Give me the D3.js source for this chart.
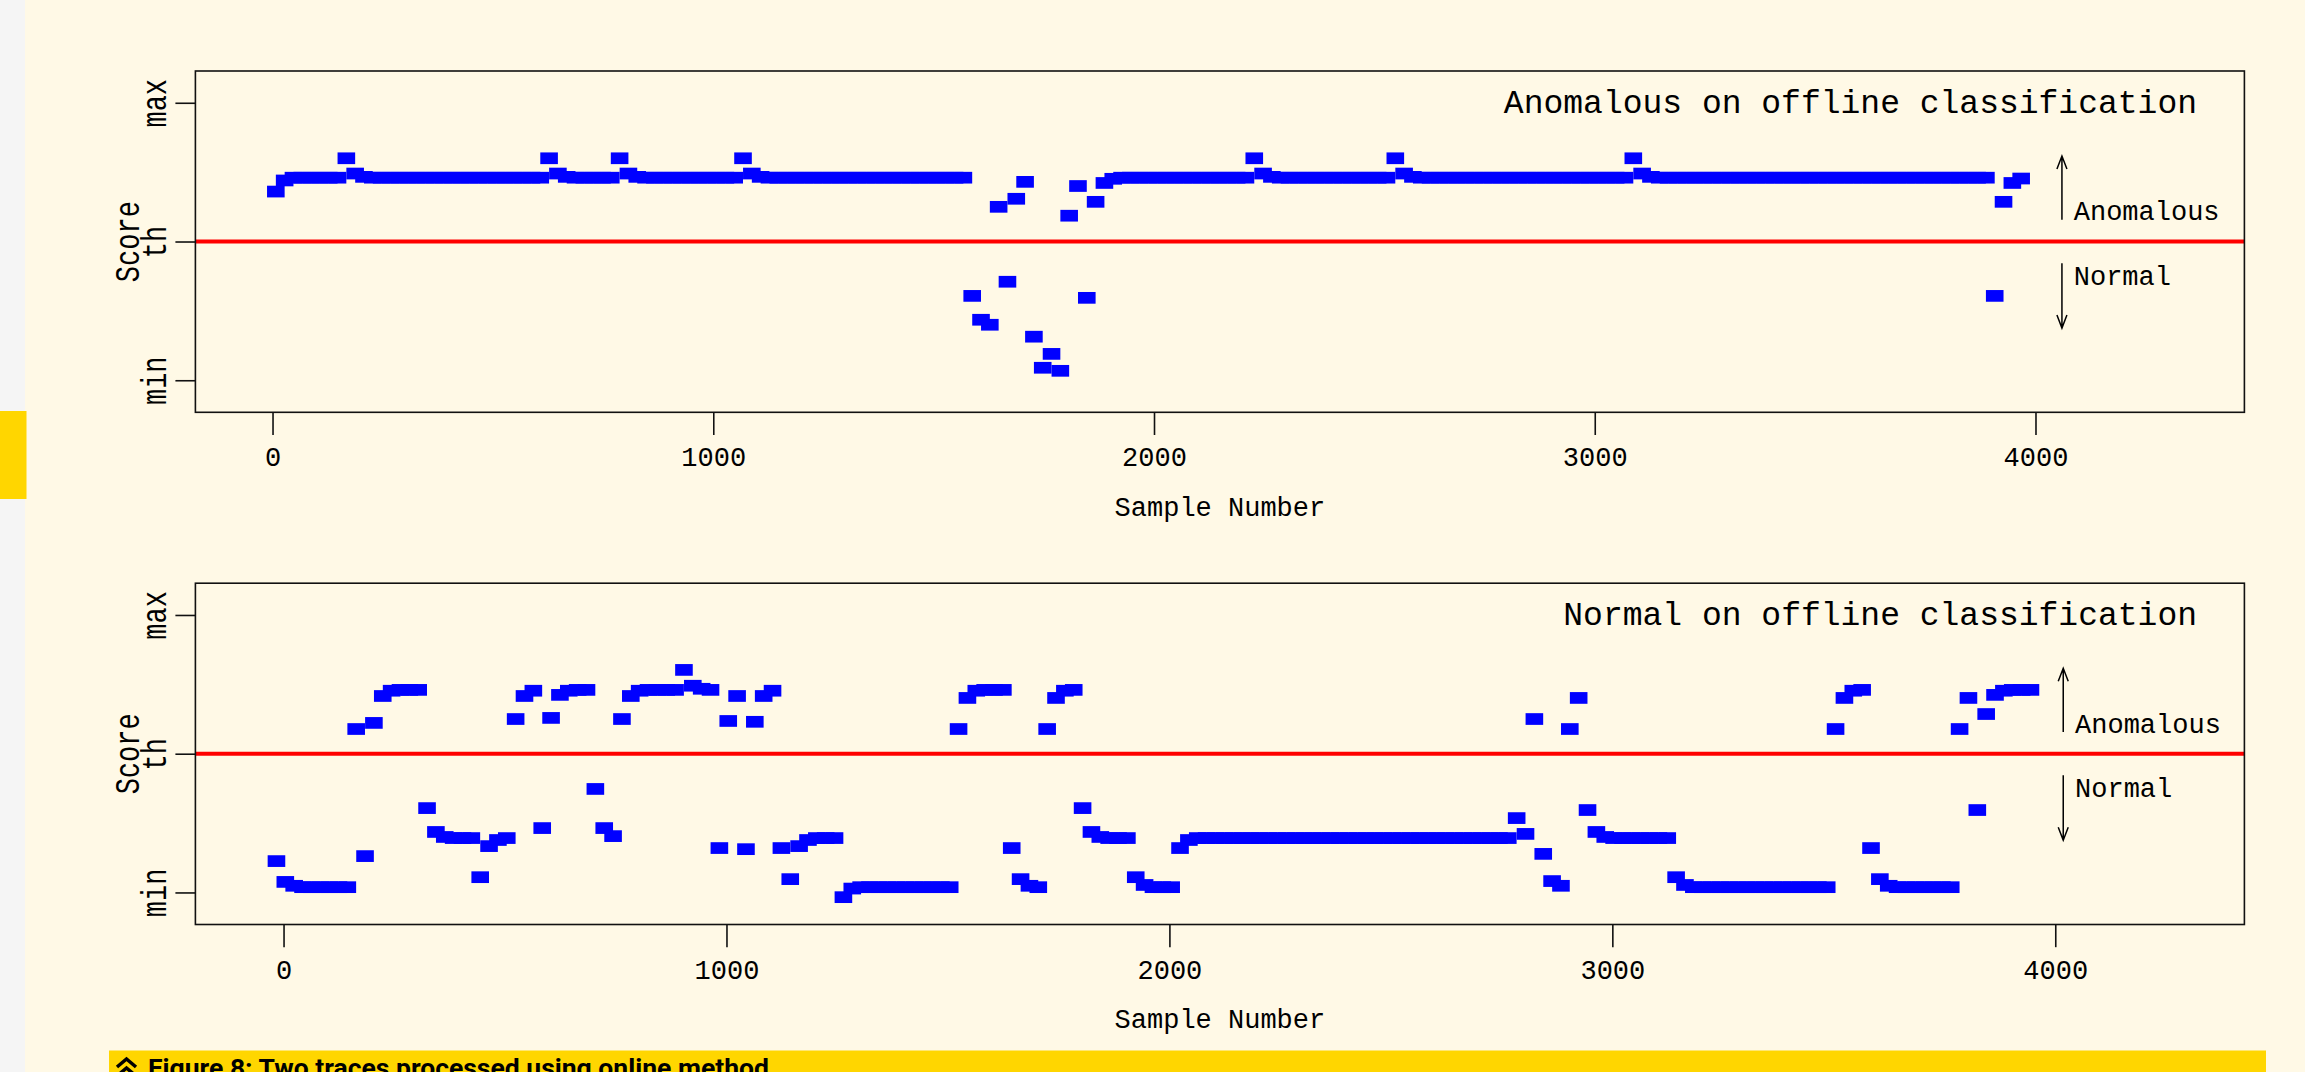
<!DOCTYPE html>
<html>
<head>
<meta charset="utf-8">
<script src="https://cdn.jsdelivr.net/npm/d3@7/dist/d3.min.js"></script>
<style>
  html, body { margin: 0; padding: 0; background: #fff9e6; overflow: hidden; }
  svg { display: block; }
</style>
</head>
<body>
<div id="chart"></div>
<script>
// sample grid: one score every 20 samples
let sampleStep = 20;
let anomalousStart = 7.5;
let normalStart = -16;

// trace classified as anomalous offline
let anomalousScore = [
  0.68, 0.72, 0.73, 0.73, 0.73, 0.73, 0.73, 0.73, 0.80, 0.745,
  0.733, 0.73, 0.73, 0.73, 0.73, 0.73, 0.73, 0.73, 0.73, 0.73,
  0.73, 0.73, 0.73, 0.73, 0.73, 0.73, 0.73, 0.73, 0.73, 0.73,
  0.73, 0.80, 0.745, 0.733, 0.73, 0.73, 0.73, 0.73, 0.73, 0.80,
  0.745, 0.733, 0.73, 0.73, 0.73, 0.73, 0.73, 0.73, 0.73, 0.73,
  0.73, 0.73, 0.73, 0.80, 0.745, 0.733, 0.73, 0.73, 0.73, 0.73,
  0.73, 0.73, 0.73, 0.73, 0.73, 0.73, 0.73, 0.73, 0.73, 0.73,
  0.73, 0.73, 0.73, 0.73, 0.73, 0.73, 0.73, 0.73, 0.73, 0.304,
  0.218, 0.200, 0.625, 0.355, 0.654, 0.715, 0.157, 0.045, 0.095, 0.034,
  0.593, 0.700, 0.297, 0.643, 0.711, 0.726, 0.73, 0.73, 0.73, 0.73,
  0.73, 0.73, 0.73, 0.73, 0.73, 0.73, 0.73, 0.73, 0.73, 0.73,
  0.73, 0.80, 0.745, 0.733, 0.73, 0.73, 0.73, 0.73, 0.73, 0.73,
  0.73, 0.73, 0.73, 0.73, 0.73, 0.73, 0.73, 0.80, 0.745, 0.733,
  0.73, 0.73, 0.73, 0.73, 0.73, 0.73, 0.73, 0.73, 0.73, 0.73,
  0.73, 0.73, 0.73, 0.73, 0.73, 0.73, 0.73, 0.73, 0.73, 0.73,
  0.73, 0.73, 0.73, 0.73, 0.80, 0.745, 0.733, 0.73, 0.73, 0.73,
  0.73, 0.73, 0.73, 0.73, 0.73, 0.73, 0.73, 0.73, 0.73, 0.73,
  0.73, 0.73, 0.73, 0.73, 0.73, 0.73, 0.73, 0.73, 0.73, 0.73,
  0.73, 0.73, 0.73, 0.73, 0.73, 0.73, 0.73, 0.73, 0.73, 0.73,
  0.73, 0.73, 0.73, 0.73, 0.73, 0.304, 0.643, 0.711, 0.727
];

// trace classified as normal offline
let normalScore = [
  0.113, 0.038, 0.024, 0.019, 0.019, 0.019, 0.019, 0.019, 0.019, 0.589,
  0.131, 0.611, 0.708, 0.727, 0.730, 0.730, 0.730, 0.304, 0.218, 0.200,
  0.196, 0.196, 0.196, 0.055, 0.167, 0.189, 0.196, 0.625, 0.708, 0.727,
  0.232, 0.629, 0.712, 0.727, 0.730, 0.730, 0.373, 0.232, 0.203, 0.625,
  0.708, 0.727, 0.730, 0.730, 0.730, 0.730, 0.802, 0.745, 0.734, 0.730,
  0.160, 0.618, 0.708, 0.156, 0.615, 0.708, 0.727, 0.160, 0.048, 0.167,
  0.189, 0.196, 0.196, 0.196, -0.017, 0.014, 0.019, 0.019, 0.019, 0.019,
  0.019, 0.019, 0.019, 0.019, 0.019, 0.019, 0.019, 0.589, 0.701, 0.727,
  0.730, 0.730, 0.730, 0.160, 0.048, 0.024, 0.019, 0.589, 0.701, 0.727,
  0.730, 0.304, 0.218, 0.200, 0.196, 0.196, 0.196, 0.055, 0.027, 0.019,
  0.019, 0.019, 0.160, 0.189, 0.196, 0.196, 0.196, 0.196, 0.196, 0.196,
  0.196, 0.196, 0.196, 0.196, 0.196, 0.196, 0.196, 0.196, 0.196, 0.196,
  0.196, 0.196, 0.196, 0.196, 0.196, 0.196, 0.196, 0.196, 0.196, 0.196,
  0.196, 0.196, 0.196, 0.196, 0.196, 0.196, 0.196, 0.196, 0.196, 0.196,
  0.268, 0.211, 0.625, 0.139, 0.041, 0.024, 0.589, 0.701, 0.297, 0.218,
  0.200, 0.196, 0.196, 0.196, 0.196, 0.196, 0.196, 0.196, 0.055, 0.027,
  0.019, 0.019, 0.019, 0.019, 0.019, 0.019, 0.019, 0.019, 0.019, 0.019,
  0.019, 0.019, 0.019, 0.019, 0.019, 0.019, 0.589, 0.701, 0.727, 0.730,
  0.160, 0.048, 0.024, 0.019, 0.019, 0.019, 0.019, 0.019, 0.019, 0.019,
  0.589, 0.701, 0.297, 0.643, 0.712, 0.727, 0.730, 0.730, 0.730
];

let xTickValues = [0, 1000, 2000, 3000, 4000];
let yTickValues = [0, 0.5, 1];
let yTickLabels = ["min", "th", "max"];
let threshold = 0.5;
let titles = ["Anomalous on offline classification", "Normal on offline classification"];
let caption = "Figure 8: Two traces processed using online method";

let width = 2305;
let height = 1072;
let plot = { left: 195.4, width: 2049, height: 341.3 };
let monoFont = "'Liberation Mono', 'DejaVu Sans Mono', monospace";

// each panel: where it sits and how its x axis is stretched
let panels = [
  { top: 71, title: titles[0], scores: anomalousScore, start: anomalousStart, xDomain: [-175, 4474], arrowAt: 4060 },
  { top: 583.2, title: titles[1], scores: normalScore, start: normalStart, xDomain: [-199, 4427], arrowAt: 4018 }
];

function translate (x, y) {
  return `translate(${x}, ${y})`;
}

let svg = d3.select("#chart").append("svg")
  .attr("width", width)
  .attr("height", height);

// page decorations round the figure
svg.append("rect").attr("x", 0).attr("y", 0).attr("width", 25).attr("height", height).attr("fill", "#f5f5f5");
svg.append("rect").attr("x", 0).attr("y", 411).attr("width", 26.5).attr("height", 88).attr("fill", "#ffd600");

function drawPanel (p) {
  let g = svg.append("g").attr("transform", translate(plot.left, p.top));

  let x = d3.scaleLinear().domain(p.xDomain).range([0, plot.width]);
  let y = d3.scaleLinear().domain([-0.1155, 1.1145]).range([plot.height, 0]);

  // threshold line
  g.append("line")
    .attr("x1", 0).attr("x2", plot.width)
    .attr("y1", y(threshold)).attr("y2", y(threshold))
    .attr("stroke", "#ff0000").attr("stroke-width", 4);

  // score points
  let rw = 17.6, rh = 11.7;
  g.append("g").selectAll("rect")
    .data(p.scores)
    .enter().append("rect")
    .attr("x", (d, i) => x(p.start + i * sampleStep) - rw / 2)
    .attr("y", d => y(d) - rh / 2)
    .attr("width", rw)
    .attr("height", rh)
    .attr("fill", "#0000ff");

  // frame
  g.append("rect")
    .attr("width", plot.width).attr("height", plot.height)
    .attr("fill", "none").attr("stroke", "#111").attr("stroke-width", 1.6);

  // x axis
  let gx = g.append("g").attr("transform", translate(0, plot.height));
  gx.call(d3.axisBottom(x).tickValues(xTickValues).tickSize(22.7).tickFormat(d3.format("d")));
  gx.select(".domain").remove();
  gx.selectAll("line").attr("stroke", "#111").attr("stroke-width", 1.6);
  gx.selectAll("text")
    .attr("y", 54).attr("dy", null)
    .attr("fill", "#000")
    .style("font-family", monoFont).style("font-size", "27px");

  // y axis with rotated labels
  let gy = g.append("g");
  gy.call(d3.axisLeft(y).tickValues(yTickValues).tickSize(20).tickFormat((d, i) => yTickLabels[i]));
  gy.select(".domain").remove();
  gy.selectAll("line").attr("stroke", "#111").attr("stroke-width", 1.6);
  gy.selectAll("text")
    .attr("x", null).attr("dy", null)
    .attr("transform", "translate(-29.4, 0) rotate(-90) scale(1, 1.3)")
    .attr("text-anchor", "middle")
    .attr("fill", "#000")
    .style("font-family", monoFont).style("font-size", "27px");

  g.append("text")
    .attr("transform", translate(-56.4, plot.height / 2) + " rotate(-90) scale(1, 1.3)")
    .attr("text-anchor", "middle")
    .style("font-family", monoFont).style("font-size", "27px")
    .text("Score");

  g.append("text")
    .attr("x", plot.width / 2).attr("y", plot.height + 104)
    .attr("text-anchor", "middle")
    .style("font-family", monoFont).style("font-size", "27px")
    .text("Sample Number");

  // title
  g.append("text")
    .attr("x", 2001.6).attr("y", 42)
    .attr("text-anchor", "end")
    .style("font-family", monoFont).style("font-size", "33px")
    .text(p.title);

  // direction arrows
  let ax = x(p.arrowAt);
  let upTop = y(0.808), upBase = y(0.578);
  let downTop = y(0.422), downTip = y(0.188);
  let arrows = g.append("g").attr("stroke", "#000").attr("stroke-width", 1.5).attr("fill", "none");
  arrows.append("path").attr("d", `M${ax},${upBase}V${upTop}M${ax - 5},${upTop + 13}L${ax},${upTop}L${ax + 5},${upTop + 13}`);
  arrows.append("path").attr("d", `M${ax},${downTop}V${downTip}M${ax - 5},${downTip - 13}L${ax},${downTip}L${ax + 5},${downTip - 13}`);
  g.append("text")
    .attr("x", ax + 11.8).attr("y", y(0.576))
    .style("font-family", monoFont).style("font-size", "27px")
    .text("Anomalous");
  g.append("text")
    .attr("x", ax + 11.8).attr("y", y(0.344))
    .style("font-family", monoFont).style("font-size", "27px")
    .text("Normal");
}

panels.forEach(drawPanel);

// caption bar
svg.append("rect").attr("x", 109).attr("y", 1050.5).attr("width", 2157).attr("height", 30).attr("fill", "#ffd600");
svg.append("path")
  .attr("d", "M117,1067 L126.5,1059 L136,1067 M117,1076 L126.5,1068 L136,1076")
  .attr("stroke", "#000").attr("stroke-width", 3.5).attr("fill", "none");
svg.append("text")
  .attr("x", 148).attr("y", 1077)
  .style("font-family", "Roboto, 'Noto Sans', sans-serif")
  .style("font-weight", "bold").style("font-size", "26.5px")
  .text(caption);
</script>
</body>
</html>
